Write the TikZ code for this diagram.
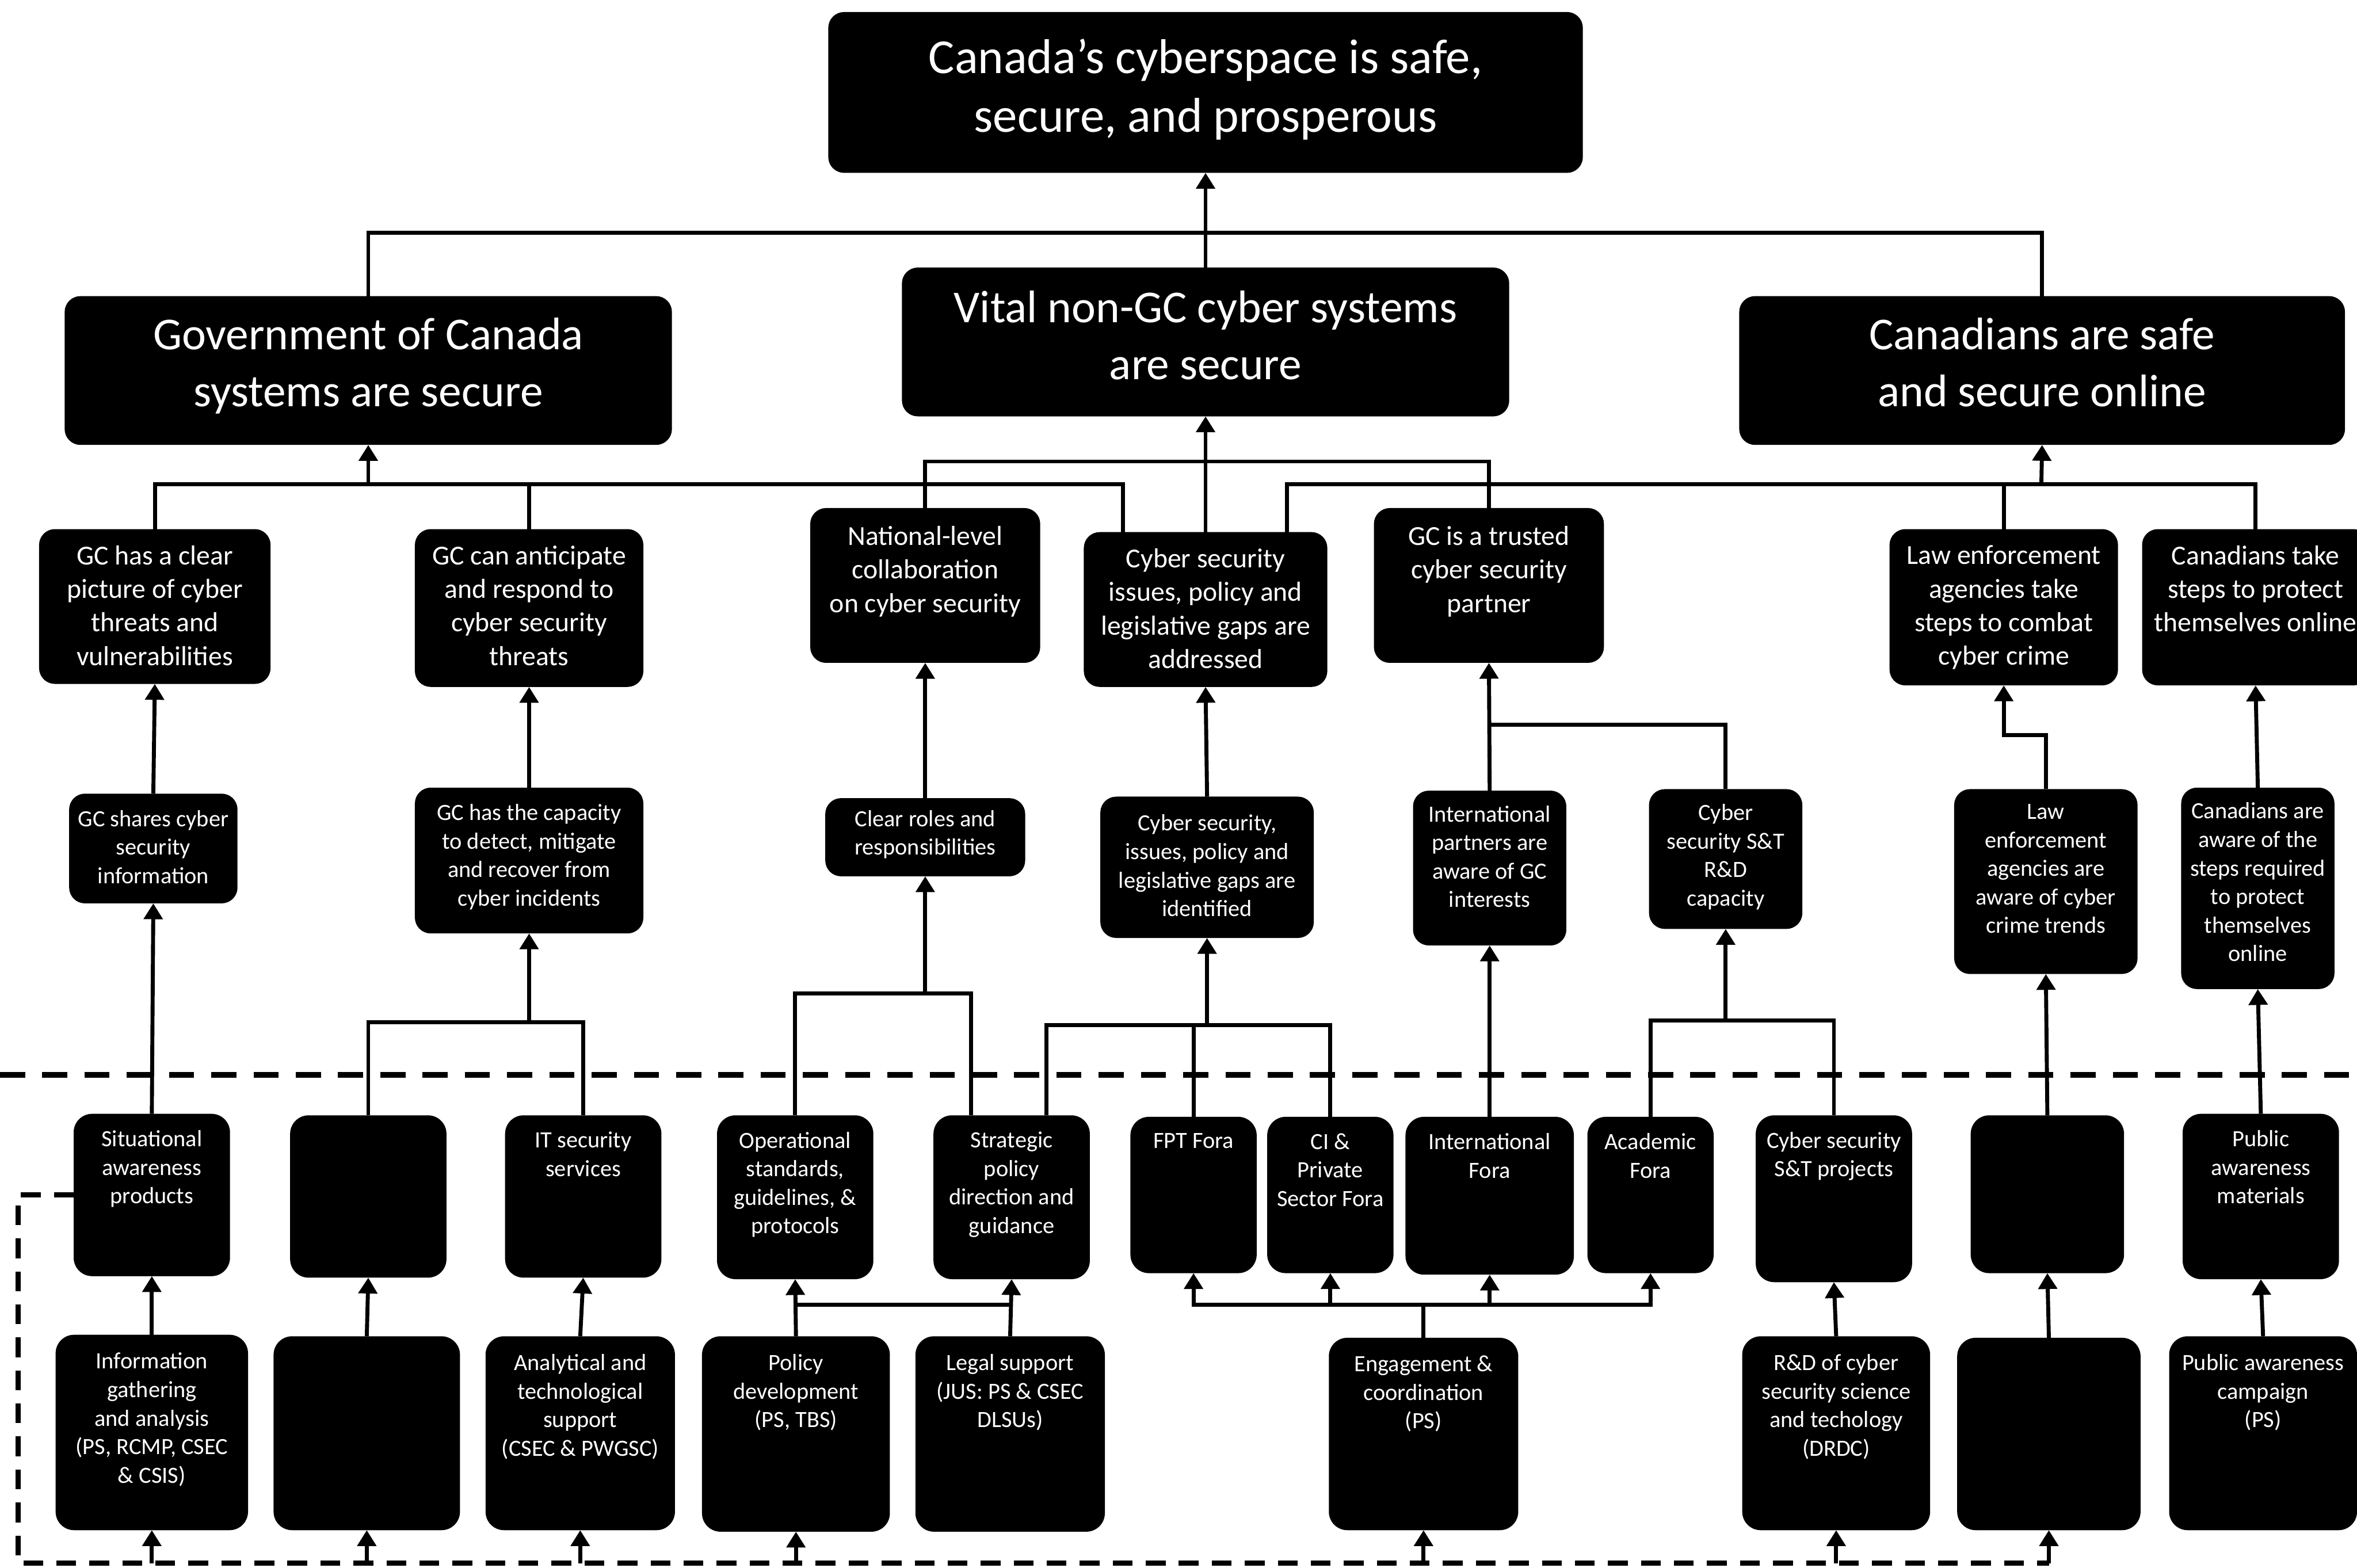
\documentclass[tikz,border=0pt]{standalone}
\usepackage{fontspec}
\setmainfont{Carlito}
\usetikzlibrary{arrows.meta,calc}

\tikzset{
  cellbox/.style={fill=black, draw=none, rounded corners=6pt, inner sep=0pt, outer sep=0pt},
  lowbox/.style={rounded corners=7pt},
  txt/.style={text=white, align=center, inner sep=0pt, outer sep=0pt},
  f0/.style={txt, font=\fontsize{18.5}{22.2}\selectfont},
  f1/.style={txt, font=\fontsize{17.3}{21.6}\selectfont},
  f2/.style={txt, font=\fontsize{10.4}{12.7}\selectfont},
  f3/.style={txt, font=\fontsize{8.8}{10.8}\selectfont},
  f4/.style={txt, font=\fontsize{8.8}{10.8}\selectfont},
  conn/.style={line width=1.5pt, line join=miter},
  arr/.style={conn, -{Triangle[width=7pt,length=6pt]}},
  divider/.style={line width=2.2pt, dash pattern=on 9.5pt off 6.5pt},
  fbline/.style={line width=1.9pt, dash pattern=on 7.5pt off 5pt},
}

% #1 name, #2-#5 box corners (x1,y1,x2,y2), #6 box extras, #7 text style, #8 gap above text, #9 text
\newcommand\mkcell[9]{%
  \node[cellbox,#6,minimum width={(#4-#2)*0.02cm},minimum height={(#5-#3)*0.02cm}]
    (#1) at ({(#2+#4)/2},{(#3+#5)/2}) {};%
  \node[#7,anchor=north] (#1-t) at ([yshift={-#8*0.02cm}]#1.north) {#9};%
}

\begin{document}
\begin{tikzpicture}[x=0.02cm, y=-0.02cm]
\useasboundingbox (0,0) rectangle (1568,1043);

% ---------- outcome boxes ----------
\mkcell{top}{551}{8}{1053}{115}{}{f0}{18}{Canada’s cyberspace is safe,\\secure, and prosperous}

\mkcell{goc}{43}{197}{447}{296}{}{f1}{14.5}{Government of Canada\\systems are secure}
\mkcell{vital}{600}{178}{1004}{277}{}{f1}{15.5}{Vital non-GC cyber systems\\are secure}
\mkcell{canad}{1157}{197}{1560}{296}{}{f1}{14.5}{Canadians are safe\\and secure online}

\mkcell{clear}{26}{352}{180}{455}{}{f2}{11}{GC has a clear\\picture of cyber\\threats and\\vulnerabilities}
\mkcell{anticip}{276}{352}{428}{457}{}{f2}{11}{GC can anticipate\\and respond to\\cyber security\\threats}
\mkcell{natl}{539}{338}{692}{441}{}{f2}{12}{National-level\\collaboration\\on cyber security}
\mkcell{issues}{721}{354}{883}{457}{}{f2}{11}{Cyber security\\issues, policy and\\legislative gaps are\\addressed}
\mkcell{trust}{914}{338}{1067}{441}{}{f2}{12}{GC is a trusted\\cyber security\\partner}
\mkcell{lawt}{1257}{352}{1409}{456}{}{f2}{11}{Law enforcement\\agencies take\\steps to combat\\cyber crime}
\mkcell{cant}{1425}{352}{1576}{456}{}{f2}{11}{Canadians take\\steps to protect\\themselves online}

\mkcell{share}{46}{528}{158}{601}{}{f3}{11}{GC shares cyber\\security\\information}
\mkcell{capac}{276}{524}{428}{621}{}{f3}{11}{GC has the capacity\\to detect, mitigate\\and recover from\\cyber incidents}
\mkcell{roles}{549}{531}{682}{583}{}{f3}{8}{Clear roles and\\responsibilities}
\mkcell{ident}{732}{530}{874}{624}{}{f3}{12}{Cyber security,\\issues, policy and\\legislative gaps are\\identified}
\mkcell{intp}{940}{526}{1042}{629}{}{f3}{10}{International\\partners are\\aware of GC\\interests}
\mkcell{srd}{1097}{525}{1199}{618}{}{f3}{10}{Cyber\\security S\&T\\R\&D\\capacity}
\mkcell{lawa}{1300}{525}{1422}{648}{}{f3}{10}{Law\\enforcement\\agencies are\\aware of cyber\\crime trends}
\mkcell{cana}{1451}{524}{1553}{658}{}{f3}{10}{Canadians are\\aware of the\\steps required\\to protect\\themselves\\online}

% ---------- output boxes ----------
\mkcell{sit}{49}{741}{153}{849}{lowbox}{f4}{11}{Situational\\awareness\\products}
\mkcell{blank2}{193}{742}{297}{850}{lowbox}{f4}{11}{}
\mkcell{itsec}{336}{742}{440}{850}{lowbox}{f4}{11}{IT security\\services}
\mkcell{oper}{477}{742}{581}{851}{lowbox}{f4}{11}{Operational\\standards,\\guidelines, \&\\protocols}
\mkcell{strat}{621}{742}{725}{851}{lowbox}{f4}{11}{Strategic\\policy\\direction and\\guidance}
\mkcell{fpt}{752}{743}{836}{847}{lowbox}{f4}{11}{FPT Fora}
\mkcell{ci}{843}{743}{927}{847}{lowbox}{f4}{11}{CI \&\\Private\\Sector Fora}
\mkcell{intf}{935}{743}{1047}{848}{lowbox}{f4}{11}{International\\Fora}
\mkcell{acad}{1056}{743}{1140}{847}{lowbox}{f4}{11}{Academic\\Fora}
\mkcell{stp}{1168}{742}{1272}{853}{lowbox}{f4}{11}{Cyber security\\S\&T projects}
\mkcell{polic}{1311}{742}{1413}{847}{lowbox}{f4}{11}{}
\mkcell{pam}{1452}{741}{1556}{851}{lowbox}{f4}{11}{Public\\awareness\\materials}

% ---------- activity boxes ----------
\mkcell{info}{37}{888}{165}{1018}{lowbox}{f4}{12}{Information\\gathering\\and analysis\\(PS, RCMP, CSEC\\\& CSIS)}
\mkcell{blank4}{182}{889}{306}{1018}{lowbox}{f4}{12}{}
\mkcell{anal}{323}{889}{449}{1018}{lowbox}{f4}{12}{Analytical and\\technological\\support\\(CSEC \& PWGSC)}
\mkcell{policy}{467}{889}{592}{1019}{lowbox}{f4}{12}{Policy\\development\\(PS, TBS)}
\mkcell{legal}{609}{889}{735}{1019}{lowbox}{f4}{12}{Legal support\\(JUS: PS \& CSEC\\DLSUs)}
\mkcell{engage}{884}{890}{1010}{1018}{lowbox}{f4}{12}{Engagement \&\\coordination\\(PS)}
\mkcell{rd}{1159}{889}{1284}{1018}{lowbox}{f4}{12}{R\&D of cyber\\security science\\and techology\\(DRDC)}
\mkcell{lawb}{1302}{890}{1424}{1018}{lowbox}{f4}{12}{}
\mkcell{pac}{1443}{889}{1568}{1018}{lowbox}{f4}{12}{Public awareness\\campaign\\(PS)}

% ---------- connectors: level 1 to ultimate outcome ----------
\coordinate (j0) at (802,155);
\draw[conn] (goc.north) |- (j0) -| (canad.north);
\draw[arr] (vital.north) -- (top.south);

% ---------- level 2 to level 1 ----------
\coordinate (j1) at (245,322);
\coordinate (iL) at ($(issues.north)+(-55,0)$);
\coordinate (iR) at ($(issues.north)+(54,0)$);
\draw[conn] (clear.north) |- (iL |- j1) -- (iL);
\draw[conn] (anticip.north) -- (anticip.north |- j1);
\draw[arr] (j1) -- (goc.south);

\coordinate (j2) at (802,307);
\draw[conn] (natl.north) |- (trust.north |- j2) -- (trust.north);
\draw[arr] (issues.north) -- (vital.south);

\coordinate (j3) at (1358,322);
\draw[conn] (iR) |- (cant.north |- j3) -- (cant.north);
\draw[conn] (lawt.north) -- (lawt.north |- j3);
\draw[arr] (j3) -- (canad.south);

% ---------- level 3 to level 2 ----------
\draw[arr] (share.north) -- (clear.south);
\draw[arr] (capac.north) -- (anticip.south);
\draw[arr] (roles.north) -- (natl.south);
\draw[arr] (ident.north) -- (issues.south);
\draw[arr] (intp.north) -- (trust.south);
\coordinate (j4) at (990.5,482);
\draw[conn] (srd.north) |- (j4);
\coordinate (j5) at (1333,489);
\draw[arr] (lawa.north) |- (j5) -- (lawt.south);
\draw[arr] (cana.north) -- (cant.south);

% ---------- outputs to level 3 ----------
\draw[arr] (sit.north) -- (share.south);
\coordinate (j6) at (352,680);
\draw[conn] (blank2.north) |- (itsec.north |- j6) -- (itsec.north);
\draw[arr] (j6) -- (capac.south);

\coordinate (j7) at (615.5,661);
\coordinate (sL) at ($(strat.north)+(-27,0)$);
\coordinate (sR) at ($(strat.north)+(23,0)$);
\draw[conn] (oper.north) |- (sL |- j7) -- (sL);
\draw[arr] (j7) -- (roles.south);

\coordinate (j8) at (803,682);
\draw[conn] (sR) |- (ci.north |- j8) -- (ci.north);
\draw[conn] (fpt.north) -- (fpt.north |- j8);
\draw[arr] (j8) -- (ident.south);

\draw[arr] (intf.north) -- (intp.south);

\coordinate (j9) at (1148,679);
\draw[conn] (acad.north) |- (stp.north |- j9) -- (stp.north);
\draw[arr] (j9) -- (srd.south);

\draw[arr] (polic.north) -- (lawa.south);
\draw[arr] (pam.north) -- (cana.south);

% ---------- activities to outputs ----------
\draw[arr] (info.north) -- (sit.south);
\draw[arr] (blank4.north) -- (blank2.south);
\draw[arr] (anal.north) -- (itsec.south);
\draw[arr] (policy.north) -- (oper.south);
\draw[arr] (legal.north) -- (strat.south);
\coordinate (j10) at ($(policy.north)+(0,-21)$);
\draw[conn] (j10) -- (legal.north |- j10);

\coordinate (j11) at ($(engage.north)+(0,-22)$);
\draw[conn] (engage.north) -- (j11);
\draw[arr] (j11) -| (fpt.south);
\draw[arr] (j11) -| (acad.south);
\draw[arr] (ci.south |- j11) -- (ci.south);
\draw[arr] (intf.south |- j11) -- (intf.south);

\draw[arr] (rd.north) -- (stp.south);
\draw[arr] (lawb.north) -- (polic.south);
\draw[arr] (pac.north) -- (pam.south);

% ---------- feedback loop ----------
\coordinate (fL) at (12,1040);
\coordinate (fR) at (lawb.south |- fL);
\draw[fbline] (sit.west) -| (fL) -- (fR);
\foreach \n in {info,blank4,anal,policy,engage,rd,lawb}
  \draw[arr] (\n.south |- fL) -- (\n.south);

% ---------- divider between outcomes and outputs ----------
\coordinate (dL) at (0,715);
\coordinate (dR) at (1568,715);
\draw[divider] (dL) -- (dR);
\end{tikzpicture}
\end{document}
